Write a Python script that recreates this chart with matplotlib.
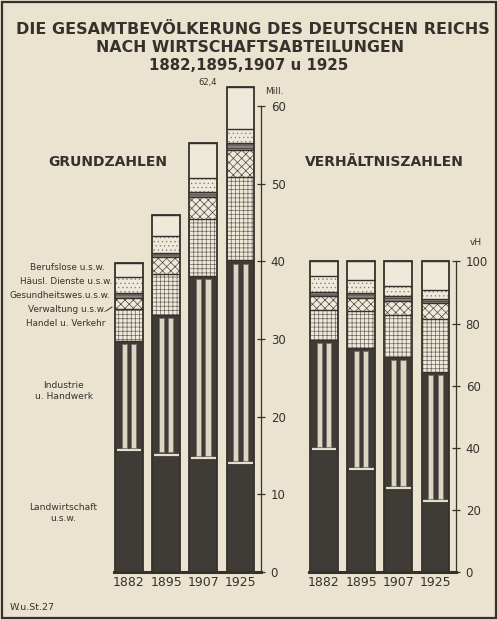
import numpy as np
import matplotlib.pyplot as plt
from matplotlib.patches import Rectangle
from matplotlib.lines import Line2D

years = ['1882', '1895', '1907', '1925']

# Grundzahlen (Mill.), from bottom to top
landw = [15.6, 15.0, 14.5, 13.9]
industrie = [14.1, 18.1, 23.6, 26.2]
handel = [4.1, 5.3, 7.3, 10.8]
verwaltung = [1.5, 2.1, 2.9, 3.4]
gesundheit = [0.6, 0.6, 0.6, 0.9]
haeusl = [2.1, 2.2, 1.8, 1.8]
berufslose = [1.8, 2.7, 4.5, 5.4]

# Verhaeltniszahlen (vH)
landw_p = [39.2, 32.9, 26.7, 22.4]
industrie_p = [35.6, 39.2, 42.5, 42.0]
handel_p = [9.6, 11.8, 13.6, 17.2]
verwaltung_p = [4.3, 4.3, 4.6, 5.0]
gesundheit_p = [1.3, 1.6, 1.3, 1.3]
haeusl_p = [5.4, 4.1, 3.3, 3.0]
berufslose_p = [4.6, 6.1, 8.0, 9.1]

bg = '#e9e3cf'
ink = '#36312c'
dark = '#3f3b36'
light = '#eee9d9'

plt.rcParams['hatch.linewidth'] = 0.5
plt.rcParams['font.family'] = ['DejaVu Sans']

fig = plt.figure(figsize=(4.98, 6.2), dpi=100, facecolor=bg)


def fx(px):
    return px / 498


def fy(py):
    return 1 - py / 620


W = 0.75
x = np.arange(len(years))

# fill, hatch, hatch colour
styles = [
    (dark, None, dark),
    (dark, None, dark),
    (light, '++++', '#6a655d'),
    (light, 'xxxx', '#4a463f'),
    ('#8a857b', '-----', ink),
    (light, '....', '#8a857b'),
    (light, None, light),
]


def draw_panel(ax, segs, top, margin):
    bottom = np.zeros(len(years))
    for vals, (fc, h, hc) in zip(segs, styles):
        vals = np.array(vals)
        ax.bar(x, vals, W, bottom=bottom, color=fc, hatch=h, edgecolor=hc,
               linewidth=0, zorder=2)
        bottom = bottom + vals
        ax.hlines(bottom, x - W / 2, x + W / 2, color=ink, lw=1.0, zorder=3)
    # industry stripes
    lw_v = np.array(segs[0])
    ind_v = np.array(segs[1])
    for off in (-0.125, 0.125):
        ax.bar(x + off, ind_v - 2 * margin, 0.14, bottom=lw_v + margin,
               color='#dcd6c3', edgecolor='#77726a', linewidth=0.6, zorder=3)
    ax.hlines(lw_v + margin * 0.3, x - W / 2 + 0.04, x + W / 2 - 0.04,
              color='#e4dfcc', lw=1.6, zorder=4)
    ax.bar(x, bottom, W, fill=False, edgecolor=ink, linewidth=1.3, zorder=5)
    ax.set_xlim(-0.51, 3.55)
    ax.set_facecolor('none')
    for s in ('left', 'top'):
        ax.spines[s].set_visible(False)
    ax.spines['right'].set_bounds(0, top)
    ax.spines['right'].set_color(ink)
    ax.spines['right'].set_linewidth(0.9)
    ax.spines['bottom'].set_bounds(-0.4, 3.55)
    ax.spines['bottom'].set_linewidth(2.2)
    ax.spines['bottom'].set_color(ink)
    ax.yaxis.tick_right()
    ax.tick_params(axis='y', direction='inout', length=6, width=0.9,
                   colors=ink, labelsize=8.5, pad=4)
    ax.set_xticks(x)
    ax.set_xticklabels(years)
    ax.tick_params(axis='x', length=0, labelsize=9, colors=ink, pad=3)


ax1 = fig.add_axes([fx(110), 48 / 620, 151 / 498, 497 / 620])
ax1.set_ylim(0, 497 / 7.77)
draw_panel(ax1, [landw, industrie, handel, verwaltung, gesundheit, haeusl,
                 berufslose], 60, 0.4)
ax1.set_yticks(range(0, 61, 10))
ax1.text(x[3] - W / 2 - 0.25, sum(col[3] for col in [landw, industrie, handel,
         verwaltung, gesundheit, haeusl, berufslose]), '62,4',
         ha='right', va='bottom', fontsize=6, color=ink)

ax2 = fig.add_axes([fx(305), 48 / 620, 151 / 498, 320 / 620])
ax2.set_ylim(0, 320 / 3.106)
draw_panel(ax2, [landw_p, industrie_p, handel_p, verwaltung_p, gesundheit_p,
                 haeusl_p, berufslose_p], 100, 1.0)
ax2.set_yticks(range(0, 101, 20))

# titles
fig.text(0.507, fy(30), 'DIE GESAMTBEVÖLKERUNG DES DEUTSCHEN REICHS',
         ha='center', va='center', fontsize=11.5, fontweight='bold', color=ink)
fig.text(0.503, fy(48), 'NACH WIRTSCHAFTSABTEILUNGEN',
         ha='center', va='center', fontsize=11.3, fontweight='bold', color=ink)
fig.text(0.50, fy(66), '1882,1895,1907 u 1925',
         ha='center', va='center', fontsize=10.8, fontweight='bold', color=ink)
fig.text(fx(108), fy(162), 'GRUNDZAHLEN', ha='center', va='center',
         fontsize=10, fontweight='bold', color=ink)
fig.text(fx(384), fy(162), 'VERHÄLTNISZAHLEN', ha='center', va='center',
         fontsize=10, fontweight='bold', color=ink)
fig.text(fx(265), fy(92), 'Mill.', ha='left', va='center', fontsize=6.5,
         color=ink)
fig.text(fx(470), fy(243), 'vH', ha='left', va='center', fontsize=6.5,
         color=ink)

# category labels
for lab, px, py in [('Berufslose u.s.w.', 105, 268),
                    ('Häusl. Dienste u.s.w.', 112, 282),
                    ('Gesundheitswes.u.s.w.', 110, 296),
                    ('Verwaltung u.s.w.', 106, 309),
                    ('Handel u. Verkehr', 105, 323)]:
    fig.text(fx(px), fy(py), lab, ha='right', va='center', fontsize=6.4,
             color=ink)
fig.add_artist(Line2D([fx(106), fx(112)], [fy(311), fy(307)], color=ink,
                      lw=0.7))
fig.text(fx(64), fy(391), 'Industrie\nu. Handwerk', ha='center', va='center',
         fontsize=6.6, color=ink, linespacing=1.2)
fig.text(fx(63), fy(513), 'Landwirtschaft\nu.s.w.', ha='center', va='center',
         fontsize=6.6, color=ink, linespacing=1.2)
fig.text(fx(10), fy(607), 'W.u.St.27', ha='left', va='center', fontsize=6.8,
         color=ink)

fig.add_artist(Rectangle((fx(2), fy(618)), fx(494), 616 / 620, fill=False,
                         edgecolor=ink, lw=1.6))

fig.savefig('out.png', dpi=100, facecolor=bg)
